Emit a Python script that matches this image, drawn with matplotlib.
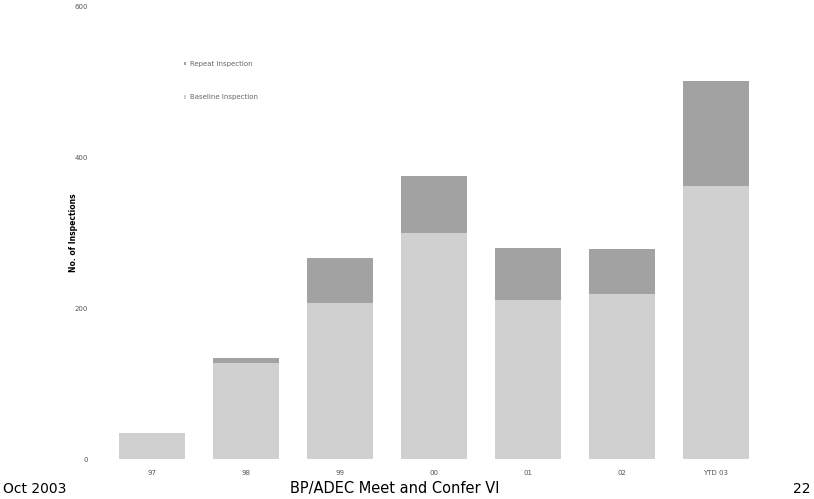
import matplotlib
matplotlib.use("Agg")
import matplotlib.pyplot as plt
import numpy as np

years = ["97", "98", "99", "00", "01", "02", "YTD 03"]
baseline = [35, 127, 207, 300, 211, 219, 363]
repeat = [0, 7, 60, 76, 69, 60, 139]
yticks = [0, 200, 400, 600]

BASE_COLOR = "#d0d0d0"
REPEAT_COLOR = "#a2a2a2"


def main() -> None:
    fig = plt.figure(figsize=(8.14, 4.99), dpi=100)
    ax = fig.add_axes([105 / 814, 1 - 459 / 499, (763 - 105) / 814, (459 - 7) / 499])

    x = np.arange(len(years))
    ax.bar(x, baseline, width=0.7, color=BASE_COLOR, label="Baseline Inspection")
    ax.bar(x, repeat, width=0.7, bottom=baseline, color=REPEAT_COLOR,
           label="Repeat Inspection")

    ax.set_xlim(-0.5, len(years) - 0.5)
    ax.set_ylim(0, 600)
    ax.set_yticks(yticks)
    ax.set_yticklabels([str(v) for v in yticks], fontsize=5, color="#555555")
    ax.set_xticks(x)
    ax.set_xticklabels(years, fontsize=5, color="#555555")
    ax.tick_params(length=0, pad=12)
    ax.tick_params(axis="x", pad=8)
    for s in ax.spines.values():
        s.set_visible(False)

    ax.set_ylabel("No. of Inspections", fontsize=5.5, fontweight="bold", labelpad=-2)

    handles, labels = ax.get_legend_handles_labels()
    ax.legend(handles[::-1], labels[::-1], loc="upper left",
              bbox_to_anchor=(0.11, 0.894), frameon=False, fontsize=5,
              labelcolor="#666666", handlelength=0.4, handleheight=0.4,
              labelspacing=3.9, handletextpad=0.5)

    fig.text(3 / 814, 1 - 489 / 499, "Oct 2003", fontsize=10, va="center", ha="left")
    fig.text(395 / 814, 1 - 489 / 499, "BP/ADEC Meet and Confer VI", fontsize=10.5,
             va="center", ha="center")
    fig.text(811 / 814, 1 - 489 / 499, "22", fontsize=10, va="center", ha="right")

    fig.savefig("out.png", dpi=100)
    plt.close(fig)


if __name__ == "__main__":
    main()
